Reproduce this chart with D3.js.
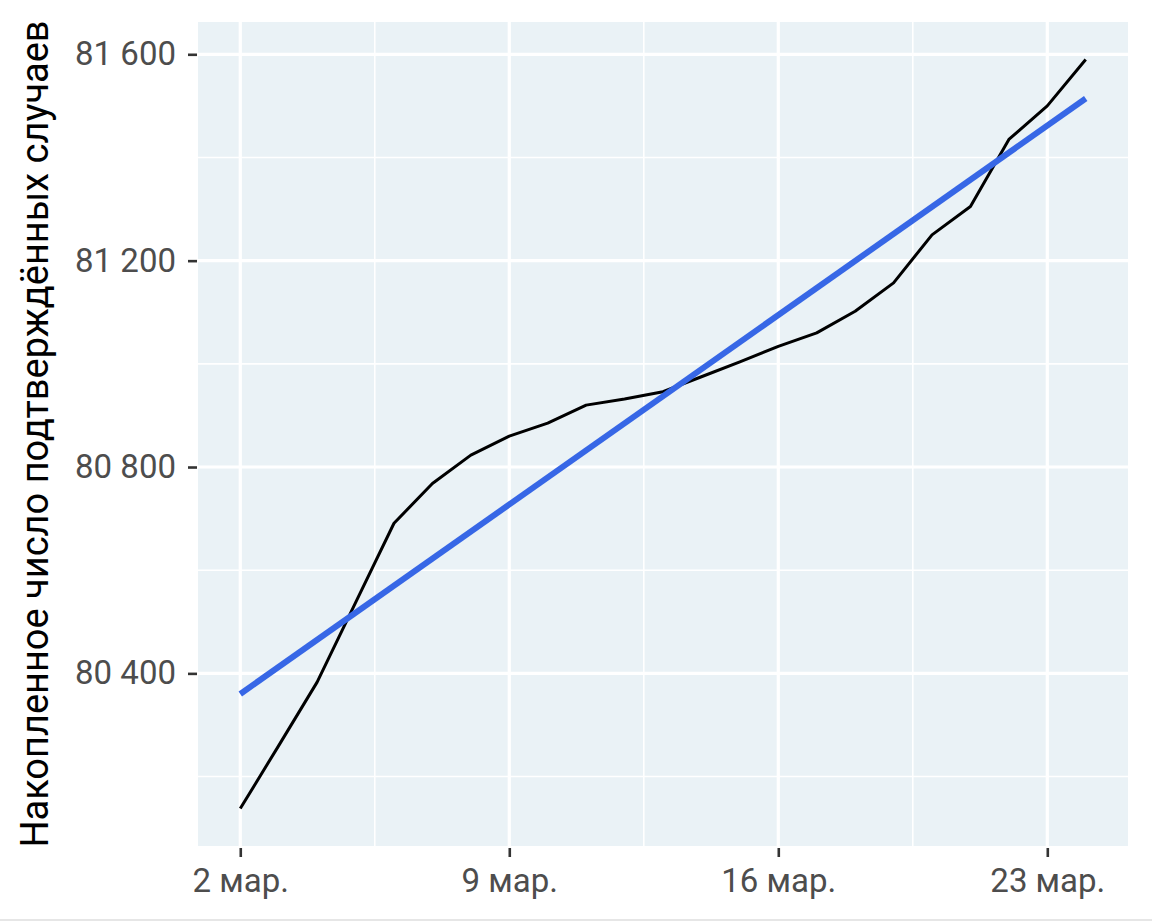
<!DOCTYPE html>
<html>
<head>
<meta charset="utf-8">
<script src="https://cdn.jsdelivr.net/npm/d3@7"></script>
<style>
  body { margin: 0; background: #fff; }
  text { font-family: Roboto, "Noto Sans", sans-serif; }
</style>
</head>
<body>
<div id="chart-area"></div>
<script>
// days of March 2020
const days = [2, 3, 4, 5, 6, 7, 8, 9, 10, 11, 12, 13, 14, 15, 16, 17, 18, 19, 20, 21, 22, 23, 24];
const cases = [80138, 80260, 80383, 80537, 80691, 80768, 80823, 80860, 80885, 80920, 80932, 80946,
               80975, 81004, 81034, 81060, 81102, 81157, 81250, 81305, 81435, 81500, 81590];
const xTickDays = [2, 9, 16, 23];
const yTicks = [80400, 80800, 81200, 81600];
const yTitle = "Накопленное число подтверждённых случаев";

const data = days.map((d, i) => ({ date: new Date(2020, 2, d), value: cases[i] }));

// linear fit (geom_smooth method = "lm")
const mx = d3.mean(days), my = d3.mean(cases);
let sxy = 0, sxx = 0;
days.forEach((d, i) => { sxy += (d - mx) * (cases[i] - my); sxx += (d - mx) * (d - mx); });
const slope = sxy / sxx;
const fit = [days[0], days[days.length - 1]].map(d => ({ date: new Date(2020, 2, d), value: my + slope * (d - mx) }));

const margin = { left: 198, right: 24, top: 22, bottom: 76 };
const width = 1152 - margin.left - margin.right;
const height = 922 - margin.top - margin.bottom;

const svg = d3.select("#chart-area")
  .append("svg")
    .attr("width", 1152)
    .attr("height", 922);

svg.append("line")
  .attr("x1", 0).attr("x2", 1152)
  .attr("y1", 920).attr("y2", 920)
  .attr("stroke", "#e6e6e6")
  .attr("stroke-width", 2);

const g = svg.append("g")
  .attr("transform", "translate(" + margin.left + "," + margin.top + ")");

// ggplot-style 5% expansion
const xExt = d3.extent(data, d => d.date);
const xPad = (xExt[1] - xExt[0]) * 0.05;
const x = d3.scaleTime()
  .domain([new Date(+xExt[0] - xPad), new Date(+xExt[1] + xPad)])
  .range([0, width]);

const yVals = cases.concat(fit.map(d => d.value));
const yMin = d3.min(yVals), yMax = d3.max(yVals);
const yPad = (yMax - yMin) * 0.05;
const y = d3.scaleLinear()
  .domain([yMin - yPad, yMax + yPad])
  .range([height, 0]);

g.append("rect")
  .attr("width", width)
  .attr("height", height)
  .attr("fill", "#eaf2f6");

// minor grid
const xMinor = xTickDays.slice(0, -1).map(d => new Date(2020, 2, d + 3, 12));
const yMinor = [80200, 80600, 81000, 81400];
g.selectAll(".xminor").data(xMinor).enter().append("line")
  .attr("x1", d => x(d)).attr("x2", d => x(d))
  .attr("y1", 0).attr("y2", height)
  .attr("stroke", "#fff").attr("stroke-width", 1.6);
g.selectAll(".yminor").data(yMinor).enter().append("line")
  .attr("x1", 0).attr("x2", width)
  .attr("y1", d => y(d)).attr("y2", d => y(d))
  .attr("stroke", "#fff").attr("stroke-width", 1.6);

// major grid
const xTicks = xTickDays.map(d => new Date(2020, 2, d));
g.selectAll(".xmajor").data(xTicks).enter().append("line")
  .attr("x1", d => x(d)).attr("x2", d => x(d))
  .attr("y1", 0).attr("y2", height)
  .attr("stroke", "#fff").attr("stroke-width", 3.2);
g.selectAll(".ymajor").data(yTicks).enter().append("line")
  .attr("x1", 0).attr("x2", width)
  .attr("y1", d => y(d)).attr("y2", d => y(d))
  .attr("stroke", "#fff").attr("stroke-width", 3.2);

// axes
const ruFormat = d3.formatLocale({ decimal: ",", thousands: " ", grouping: [3], currency: ["", ""] }).format(",d");

const xAxisCall = d3.axisBottom(x)
  .tickValues(xTicks)
  .tickSize(9)
  .tickPadding(12)
  .tickFormat(d => d.getDate() + " мар.");
const xAxis = g.append("g")
  .attr("class", "x axis")
  .attr("transform", "translate(0, " + (height + 2) + ")")
  .call(xAxisCall);

const yAxisCall = d3.axisLeft(y)
  .tickValues(yTicks)
  .tickSize(9)
  .tickPadding(12)
  .tickFormat(ruFormat);
const yAxis = g.append("g")
  .attr("class", "y axis")
  .attr("transform", "translate(-1, 0)")
  .call(yAxisCall);

[xAxis, yAxis].forEach(a => {
  a.select(".domain").remove();
  a.selectAll(".tick line").attr("stroke", "#333").attr("stroke-width", 2.6);
  a.selectAll("text")
    .attr("fill", "#4d4d4d")
    .attr("font-size", "33px");
});

g.append("text")
  .attr("class", "y axis-label")
  .attr("x", -(height / 2))
  .attr("y", -150)
  .attr("font-size", "38px")
  .attr("text-anchor", "middle")
  .attr("fill", "#000")
  .attr("transform", "rotate(-90)")
  .text(yTitle);

// observed series
const line = d3.line()
  .x(d => x(d.date))
  .y(d => y(d.value));

g.append("path")
  .datum(data)
  .attr("fill", "none")
  .attr("stroke", "#000")
  .attr("stroke-width", 3)
  .attr("stroke-linejoin", "round")
  .attr("d", line);

// fitted line
g.append("path")
  .datum(fit)
  .attr("fill", "none")
  .attr("stroke", "#3767e6")
  .attr("stroke-width", 6)
  .attr("d", line);
</script>
</body>
</html>
